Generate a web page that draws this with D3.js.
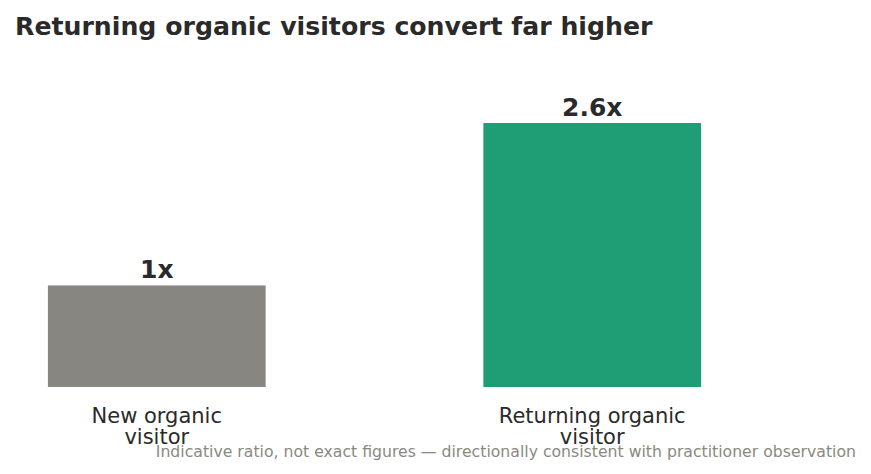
<!DOCTYPE html>
<html>
<head>
<meta charset="utf-8">
<script src="https://cdn.jsdelivr.net/npm/d3@7"></script>
<style>
  body { margin: 0; background: #fff; }
  text { font-family: "DejaVu Sans", sans-serif; }
</style>
</head>
<body>
<div id="chart"></div>
<script>
// data
const categories = ["New organic visitor", "Returning organic visitor"];
const ratios = [1, 2.6];
const valueLabels = ["1x", "2.6x"];
const barColors = ["#878680", "#1f9e75"];

const title = "Returning organic visitors convert far higher";
const footnote = "Indicative ratio, not exact figures \u2014 directionally consistent with practitioner observation";

const dims = {width: 871, height: 474};

const svg = d3.select("#chart")
    .append("svg")
    .attr("width", dims.width)
    .attr("height", dims.height);

// scales
const x = d3.scaleBand()
    .domain(categories)
    .range([0, 749])
    .paddingInner(0.5)
    .paddingOuter(0.11);

const y = d3.scaleLinear()
    .domain([0, 2.6])
    .range([387, 123]);

// bars
svg.append("g")
    .selectAll("rect")
    .data(categories)
    .enter()
    .append("rect")
    .attr("x", d => x(d))
    .attr("width", x.bandwidth())
    .attr("y", (d, i) => y(ratios[i]))
    .attr("height", (d, i) => y(0) - y(ratios[i]))
    .attr("fill", (d, i) => barColors[i]);

// value labels
svg.append("g")
    .selectAll("text")
    .data(categories)
    .enter()
    .append("text")
    .attr("x", d => x(d) + x.bandwidth() / 2)
    .attr("y", (d, i) => y(ratios[i]) - 7)
    .attr("text-anchor", "middle")
    .attr("fill", "#2a2a2a")
    .style("font-size", "25px")
    .style("font-weight", "bold")
    .text((d, i) => valueLabels[i]);

// category labels, wrapped onto two lines
const catText = svg.append("g")
    .selectAll("text")
    .data(categories)
    .enter()
    .append("text")
    .attr("text-anchor", "middle")
    .attr("fill", "#2a2a2a")
    .style("font-size", "21px");

catText.each(function(d) {
    const words = d.split(" ");
    const lines = [words.slice(0, -1).join(" "), words[words.length - 1]];
    const cx = x(d) + x.bandwidth() / 2;
    d3.select(this).selectAll("tspan")
        .data(lines)
        .enter()
        .append("tspan")
        .attr("x", cx)
        .attr("y", (l, i) => 423 + i * 21)
        .text(l => l);
});

// title
svg.append("text")
    .attr("x", 15)
    .attr("y", 35)
    .attr("fill", "#2a2a2a")
    .style("font-size", "25.2px")
    .style("font-weight", "bold")
    .text(title);

// footnote
svg.append("text")
    .attr("x", 856)
    .attr("y", 457)
    .attr("text-anchor", "end")
    .attr("fill", "#8a8980")
    .style("font-size", "15.7px")
    .text(footnote);
</script>
</body>
</html>
